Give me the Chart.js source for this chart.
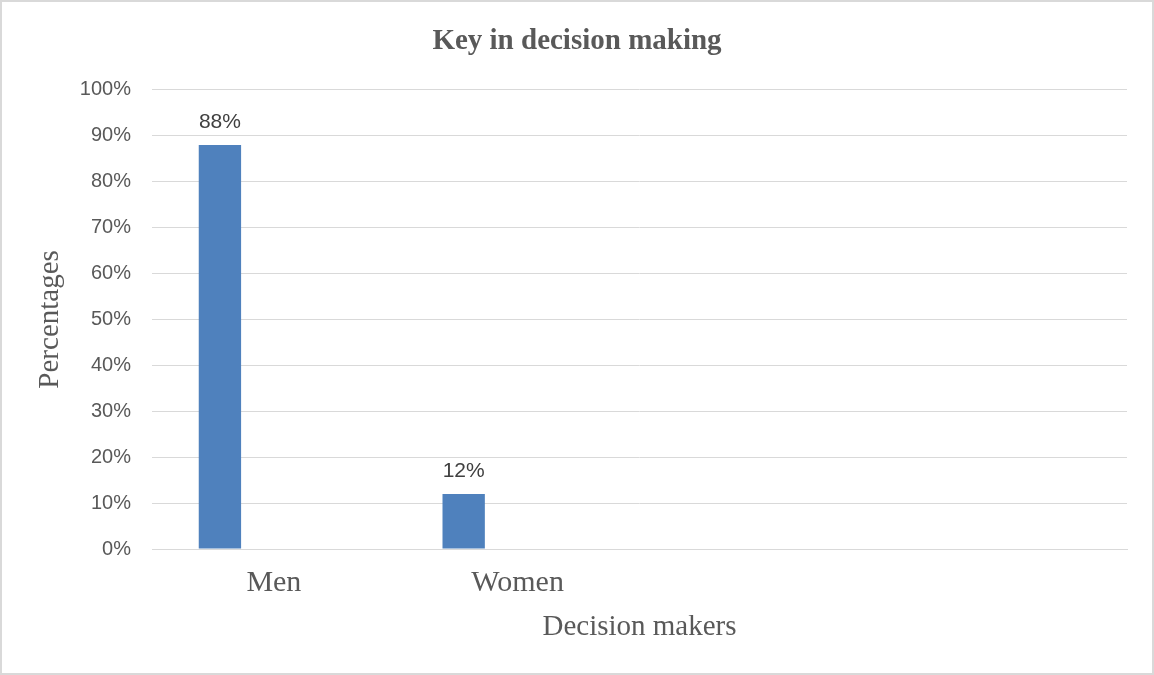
<!DOCTYPE html>
<html lang="en">
<head>
    <meta charset="UTF-8">
    <title>Key in decision making</title>
    <style>
        html, body {
            margin: 0;
            padding: 0;
            background: #fff;
        }
        .frame {
            width: 1154px;
            height: 675px;
            box-sizing: border-box;
            border: 2px solid #d9d9d9;
            background: #fff;
        }
        .frame canvas {
            display: block;
        }
    </style>
</head>
<body>
    <div class="frame">
        <canvas id="chart" width="1150" height="671"></canvas>
    </div>

    <script src="https://cdn.jsdelivr.net/npm/chart.js"></script>
    <script>
        // categories on the x axis (the last two slots are empty in the original)
        const categories = ['Men', 'Women', '', ''];
        // percentages
        const keyValues = [88, 12, null, null];
        // empty series that only take up room in each cluster
        const emptySeriesA = [null, null, null, null];
        const emptySeriesB = [null, null, null, null];
        const yTicks = [0, 10, 20, 30, 40, 50, 60, 70, 80, 90, 100];

        const serif = '"Liberation Serif", "Times New Roman", serif';
        const sans = '"Liberation Sans", Arial, sans-serif';

        // draws the "88%" style labels above each bar
        const valueLabels = {
            id: 'valueLabels',
            afterDatasetsDraw(chart) {
                const ctx = chart.ctx;
                const meta = chart.getDatasetMeta(0);
                ctx.save();
                ctx.font = '21px ' + sans;
                ctx.fillStyle = '#404040';
                ctx.textAlign = 'center';
                ctx.textBaseline = 'alphabetic';
                meta.data.forEach((bar, i) => {
                    const v = keyValues[i];
                    if (v === null) return;
                    ctx.fillText(v + '%', bar.x, bar.y - 17);
                });
                ctx.restore();
            }
        };

        const ctx = document.getElementById('chart').getContext('2d');
        new Chart(ctx, {
            type: 'bar',
            data: {
                labels: categories,
                datasets: [
                    { label: 'Key', data: keyValues, backgroundColor: '#4f81bd' },
                    { label: '', data: emptySeriesA, backgroundColor: '#c0504d' },
                    { label: '', data: emptySeriesB, backgroundColor: '#9bbb59' }
                ]
            },
            options: {
                responsive: false,
                animation: false,
                layout: { padding: { left: 25, right: 25, top: 0, bottom: 0 } },
                datasets: {
                    bar: {
                        categoryPercentage: 0.664,
                        barPercentage: 0.785
                    }
                },
                plugins: {
                    legend: { display: false },
                    tooltip: { enabled: false },
                    title: {
                        display: true,
                        text: 'Key in decision making',
                        color: '#595959',
                        font: { family: serif, size: 29, weight: 'bold', lineHeight: 1.2 },
                        padding: { top: 22, bottom: 31 }
                    }
                },
                scales: {
                    x: {
                        grid: { display: false, drawTicks: false },
                        border: { display: true, color: '#d9d9d9', width: 1 },
                        ticks: {
                            color: '#595959',
                            padding: 16,
                            maxRotation: 0,
                            autoSkip: false,
                            font: { family: serif, size: 30, lineHeight: 1.2 }
                        },
                        title: {
                            display: true,
                            text: 'Decision makers',
                            color: '#595959',
                            font: { family: serif, size: 29, lineHeight: 1.2 },
                            padding: { top: 0, bottom: 28 }
                        },
                        afterFit(scale) {
                            scale.height = 124;
                        }
                    },
                    y: {
                        min: 0,
                        max: 100,
                        grid: { color: '#d9d9d9', lineWidth: 1, drawTicks: false },
                        border: { display: false },
                        afterBuildTicks(scale) {
                            scale.ticks = yTicks.map(v => ({ value: v }));
                        },
                        ticks: {
                            color: '#595959',
                            padding: 21,
                            font: { family: sans, size: 20 },
                            callback: v => v + '%'
                        },
                        title: {
                            display: true,
                            text: 'Percentages',
                            color: '#595959',
                            font: { family: serif, size: 29, lineHeight: 1.2 },
                            padding: { top: 6, bottom: 0 }
                        },
                        afterFit(scale) {
                            scale.width = 125;
                        }
                    }
                }
            },
            plugins: [valueLabels]
        });
    </script>
</body>
</html>
